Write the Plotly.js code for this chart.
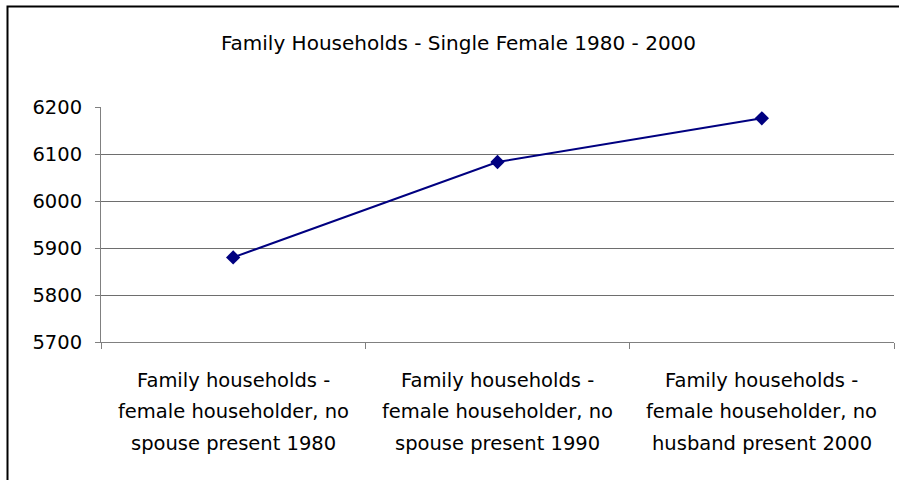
<!DOCTYPE html>
<html>
<head>
<meta charset="utf-8">
<script src="https://cdn.plot.ly/plotly-3.0.1.min.js"></script>
<style>html,body{margin:0;padding:0;background:#fff;}#chart{width:899px;height:480px;}</style>
</head>
<body>
<div id="chart"></div>
<script>
var chartTitle = "Family Households - Single Female 1980 - 2000";
var categories = ["c1980", "c1990", "c2000"];
var categoryLines = [
  ["Family households -", "female householder, no", "spouse present 1980"],
  ["Family households -", "female householder, no", "spouse present 1990"],
  ["Family households -", "female householder, no", "husband present 2000"]
];
var values = [5880, 6083, 6176];
var yTicks = [5700, 5800, 5900, 6000, 6100, 6200];

var FONT = "DejaVu Sans, sans-serif";
var W = 899, H = 480;
var mL = 101, mR = 5, mT = 107, mB = 138;
var plotW = W - mL - mR, plotH = H - mT - mB;

var annotations = [];
var lineOffsets = [-38, -69, -101];
categories.forEach(function (c, i) {
  categoryLines[i].forEach(function (txt, j) {
    annotations.push({
      x: c, xref: "x", y: 0, yref: "paper",
      yanchor: "middle", xanchor: "center",
      yshift: lineOffsets[j],
      text: txt, showarrow: false,
      font: {family: FONT, size: 19.5, color: "#000"}
    });
  });
});

var trace = {
  x: categories, y: values, type: "scatter", mode: "lines+markers",
  line: {color: "#000080", width: 2},
  marker: {symbol: "diamond", size: 11, color: "#000080"},
  hoverinfo: "skip"
};

var layout = {
  width: W, height: H,
  margin: {l: mL, r: mR, t: mT, b: mB, pad: 0},
  paper_bgcolor: "#fff", plot_bgcolor: "#fff",
  showlegend: false,
  title: {text: chartTitle, font: {family: FONT, size: 20, color: "#000"},
          x: 0.51, xanchor: "center", y: 1 - 43 / H, yanchor: "middle"},
  xaxis: {
    type: "category", range: [-0.5, 2.5], showgrid: false,
    showline: true, linecolor: "#808080", linewidth: 1,
    ticks: "outside", tickson: "boundaries", ticklen: 6, tickcolor: "#808080",
    showticklabels: false, zeroline: false, fixedrange: true
  },
  yaxis: {
    range: [5700, 6200], tickvals: yTicks, ticktext: yTicks.map(String),
    showgrid: true, gridcolor: "#6e6e6e", gridwidth: 1,
    showline: true, linecolor: "#808080", linewidth: 1,
    ticks: "outside", ticklen: 5, tickcolor: "#808080",
    ticklabelstandoff: 9,
    tickfont: {family: FONT, size: 19.5, color: "#000"},
    zeroline: false, fixedrange: true
  },
  annotations: annotations,
  shapes: [{
    type: "rect", xref: "paper", yref: "paper",
    x0: (7.5 - mL) / plotW, x1: (910 - mL) / plotW,
    y0: -(H + 10 - mT - plotH) / plotH, y1: 1 + (mT - 6.5) / plotH,
    line: {color: "#000", width: 2}, fillcolor: "rgba(0,0,0,0)", layer: "below"
  }]
};

Plotly.newPlot("chart", [trace], layout, {staticPlot: true, displayModeBar: false});
</script>
</body>
</html>
